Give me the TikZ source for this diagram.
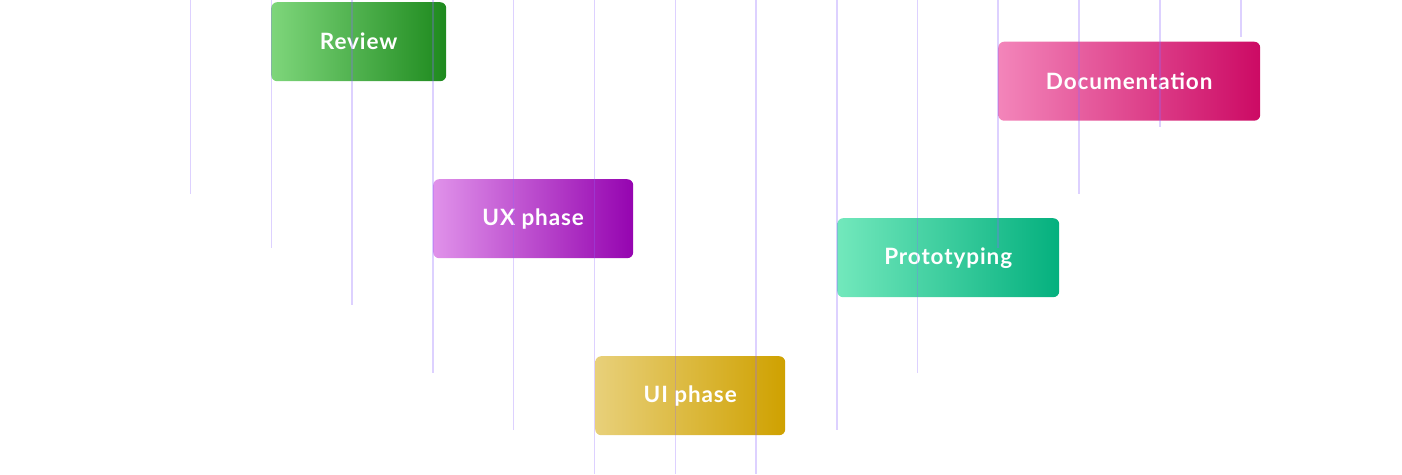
\documentclass[tikz,border=0pt]{standalone}
\usepackage{fontspec}
\setmainfont{Lato}[LetterSpace=4]
\begin{document}
\begin{tikzpicture}[x=1pt,y=-1pt,
  bar/.style={rounded corners=6pt, minimum height=79pt, inner sep=0pt,
    text=white, font=\fontsize{22.5}{26}\selectfont\bfseries, anchor=north west},
  grid/.style={draw=gridc, line width=1.5pt, opacity=0.3}]
\definecolor{gridc}{HTML}{8F66FF}
\definecolor{grL}{HTML}{7ED67B}\definecolor{grR}{HTML}{1E8A1E}
\definecolor{piL}{HTML}{F385BA}\definecolor{piR}{HTML}{CC0A64}
\definecolor{vuL}{HTML}{E092EA}\definecolor{vuR}{HTML}{9504B0}
\definecolor{teL}{HTML}{72E8BC}\definecolor{teR}{HTML}{04B07E}
\definecolor{yeL}{HTML}{E8D07A}\definecolor{yeR}{HTML}{CFA100}
\useasboundingbox (0,0) rectangle (1402,474);
\node[bar, minimum width=175pt, left color=grL, right color=grR] (review) at (271,2) {Review};
\node[bar, minimum width=262pt, left color=piL, right color=piR] (doc) at (998,41.5) {Documentation};
\node[bar, minimum width=200pt, left color=vuL, right color=vuR] (ux) at (433,179) {UX phase};
\node[bar, minimum width=222pt, left color=teL, right color=teR] (proto) at (837,218) {Prototyping};
\node[bar, minimum width=190pt, left color=yeL, right color=yeR] (ui) at (595,356) {UI phase};
\foreach \x/\b in {190.5/194,271.5/248,352/305,433/373,513.5/430,594.5/474,675.5/474,756/474,837/430,917.5/373,998/248,1079/194,1160/127,1241/37}
  \draw[grid] (\x,0) -- (\x,\b);
\end{tikzpicture}
\end{document}
